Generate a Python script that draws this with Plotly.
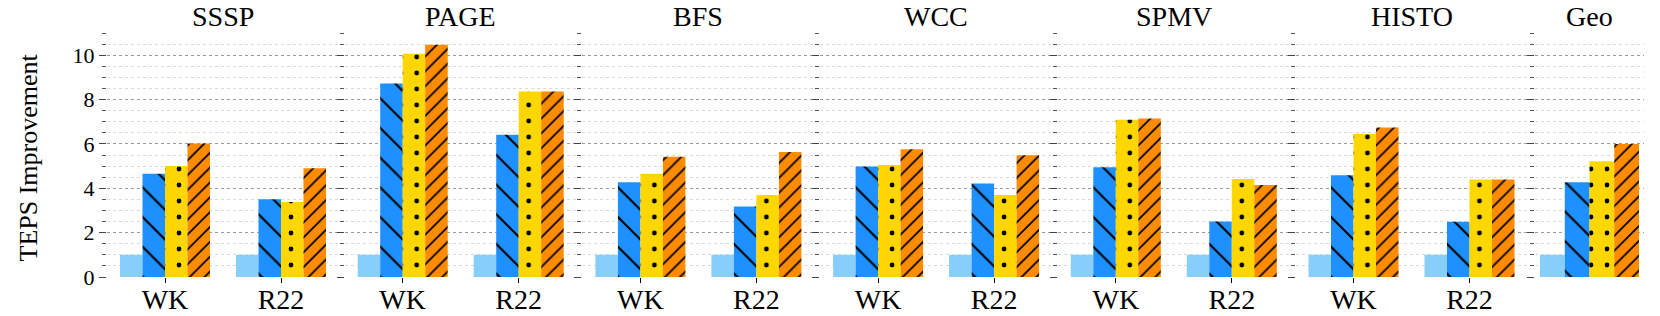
import plotly.graph_objects as go

# ---- data ----
panels = ["SSSP", "PAGE", "BFS", "WCC", "SPMV", "HISTO", "Geo"]
panel_groups = [["WK", "R22"], ["WK", "R22"], ["WK", "R22"], ["WK", "R22"],
                ["WK", "R22"], ["WK", "R22"], [""]]
# values in order SSSP-WK, SSSP-R22, PAGE-WK, ..., HISTO-R22, Geo
baseline = [1.0, 1.0, 1.0, 1.0, 1.0, 1.0, 1.0, 1.0, 1.0, 1.0, 1.0, 1.0, 1.0]
config_b = [4.65, 3.51, 8.72, 6.41, 4.27, 3.18, 4.98, 4.21, 4.95, 2.50, 4.59, 2.49, 4.27]
config_c = [5.00, 3.38, 10.06, 8.36, 4.65, 3.70, 5.05, 3.70, 7.09, 4.42, 6.46, 4.40, 5.22]
config_d = [6.02, 4.90, 10.47, 8.36, 5.42, 5.64, 5.76, 5.49, 7.14, 4.15, 6.74, 4.40, 6.00]
y_ticks = [0, 2, 4, 6, 8, 10]

series = [
    dict(vals=baseline, color="#87CEFA", shape="", size=10, sol=0.2),
    dict(vals=config_b, color="#1E90FF", shape="\\", size=21, sol=0.1),
    dict(vals=config_c, color="#FFD700", shape=".", size=16, sol=0.07),
    dict(vals=config_d, color="#FF8C00", shape="/", size=10.5, sol=0.17),
]

W, H = 1660, 316
T, B = 33, 39
FONT = "Liberation Serif, DejaVu Serif, serif"

fig = go.Figure()
idx = 0
for p, (name, groups) in enumerate(zip(panels, panel_groups)):
    n = len(groups)
    if n == 2:
        left = 107 + 237.7 * p
        right = left + 232
        bw = 0.194
    else:
        left = 1535
        right = 1644
        bw = 0.227
    sfx = "" if p == 0 else str(p + 1)
    xs = list(range(n))
    for k, s in enumerate(series):
        vals = s["vals"][idx:idx + n]
        marker = dict(color=s["color"], line=dict(width=0))
        if s["shape"]:
            marker["pattern"] = dict(shape=s["shape"], fgcolor="black",
                                     bgcolor=s["color"], size=s["size"],
                                     solidity=s["sol"], fillmode="replace")
        fig.add_trace(go.Bar(
            x=xs, y=vals, width=bw, offset=-2 * bw + k * bw,
            marker=marker, xaxis="x" + sfx, yaxis="y" + sfx,
            showlegend=False, hoverinfo="skip"))
    idx += n
    d0, d1 = left / W, right / W
    fig.layout["xaxis" + sfx] = dict(
        domain=[d0, d1], range=[-0.5, n - 0.5], anchor="y" + sfx,
        tickvals=xs, ticktext=groups, showgrid=False, zeroline=False,
        ticks="outside" if n == 2 else "", ticklen=5, tickcolor="black",
        showticklabels=(n == 2), ticklabelstandoff=-8,
        tickfont=dict(family=FONT, size=28, color="black"), fixedrange=True)
    fig.layout["yaxis" + sfx] = dict(
        range=[0, 11], anchor="x" + sfx, tickvals=y_ticks,
        showticklabels=(p == 0), ticks="outside", ticklen=7, tickcolor="#444",
        tickfont=dict(family=FONT, size=22, color="black"),
        showgrid=True, gridcolor="#9a9a9a", griddash="dot", gridwidth=1,
        zeroline=False, showline=False,
        minor=dict(dtick=0.5, ticks="outside", ticklen=4, tickcolor="#555",
                   showgrid=True, gridcolor="#dadada", gridwidth=1),
        fixedrange=True)
    fig.add_annotation(text=name, x=(d0 + d1) / 2, y=1 + 16 / (H - T - B),
                       xref="paper", yref="paper", xanchor="center",
                       yanchor="middle", showarrow=False,
                       font=dict(family=FONT, size=28, color="black"))

fig.add_annotation(text="TEPS Improvement", textangle=-90, x=28 / W,
                   y=(H - B - 157.5) / (H - T - B), xref="paper", yref="paper",
                   xanchor="center", yanchor="middle", showarrow=False,
                   font=dict(family=FONT, size=26, color="black"))

fig.update_layout(
    width=W, height=H, margin=dict(l=0, r=0, t=T, b=B),
    barmode="overlay", paper_bgcolor="white", plot_bgcolor="white",
    showlegend=False)

fig.write_html("out.html", config={"displayModeBar": False},
               post_script="document.body.style.margin='0';"
                           "document.body.style.overflow='hidden';")
